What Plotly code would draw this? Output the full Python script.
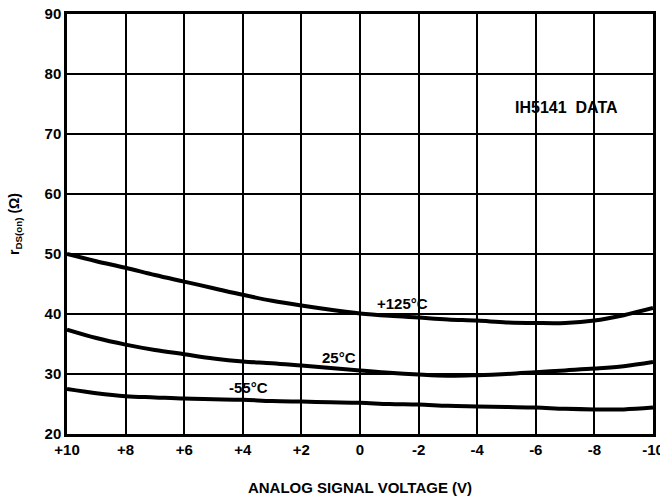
import plotly.graph_objects as go

voltage = [10, 9, 8, 7, 6, 5, 4, 3, 2, 1, 0, -1, -2, -3, -4, -5, -6, -7, -8, -9, -10]
r_125 = [50.0, 48.8, 47.7, 46.5, 45.4, 44.3, 43.2, 42.2, 41.4, 40.7, 40.1, 39.7, 39.4, 39.1, 38.9, 38.6, 38.5, 38.5, 38.9, 39.8, 41.0]
r_25 = [37.4, 36.0, 34.9, 34.0, 33.3, 32.6, 32.1, 31.8, 31.4, 31.0, 30.6, 30.2, 29.9, 29.7, 29.8, 30.0, 30.3, 30.6, 30.9, 31.3, 32.0]
r_m55 = [27.5, 26.8, 26.3, 26.1, 25.9, 25.8, 25.7, 25.5, 25.4, 25.3, 25.2, 25.0, 24.9, 24.7, 24.6, 24.5, 24.4, 24.2, 24.1, 24.1, 24.4]

x_tickvals = [10, 8, 6, 4, 2, 0, -2, -4, -6, -8, -10]
x_ticktext = ["+10", "+8", "+6", "+4", "+2", "0", "-2", "-4", "-6", "-8", "-10"]
y_tickvals = [20, 30, 40, 50, 60, 70, 80, 90]

labels = [("+125°C", -1.45, 41.8), ("25°C", 0.7, 32.8), ("-55°C", 3.8, 27.8)]

FONT = "Liberation Sans, Arial, sans-serif"

fig = go.Figure()
for ys in (r_125, r_25, r_m55):
    fig.add_trace(go.Scatter(x=voltage, y=ys, mode="lines",
                             line=dict(color="black", width=4, shape="spline"),
                             showlegend=False, hoverinfo="skip"))

for text, xv, yv in labels:
    fig.add_annotation(x=xv, y=yv, text=f"<b>{text}</b>", showarrow=False,
                       font=dict(family=FONT, size=15, color="black"))

fig.add_annotation(x=-7.05, y=74.5, text="<b>IH5141  DATA</b>", showarrow=False,
                   font=dict(family=FONT, size=16, color="black"))

fig.update_layout(
    width=660, height=499,
    margin=dict(l=67, r=7, t=14, b=65),
    paper_bgcolor="white", plot_bgcolor="white",
    font=dict(family=FONT, color="black"),
)
fig.update_xaxes(
    range=[10, -10], tickvals=x_tickvals, ticktext=x_ticktext,
    showgrid=True, gridcolor="black", gridwidth=1.5,
    showline=True, linecolor="black", linewidth=2.5, mirror=True,
    ticks="", zeroline=False, automargin=False, ticklabeloverflow="allow",
    tickfont=dict(family=FONT, size=15, color="black", weight="bold"),
    title=dict(text="<b>ANALOG SIGNAL VOLTAGE (V)</b>", standoff=26,
               font=dict(family=FONT, size=15, color="black")),
)
fig.update_yaxes(
    range=[20, 90], tickvals=y_tickvals,
    showgrid=True, gridcolor="black", gridwidth=2,
    showline=True, linecolor="black", linewidth=2.5, mirror=True,
    ticks="", zeroline=False, automargin=False, ticklabeloverflow="allow",
    tickfont=dict(family=FONT, size=15, color="black", weight="bold"),
    title=dict(text="<b>r<sub>DS(on)</sub> (Ω)</b>", standoff=22,
               font=dict(family=FONT, size=14, color="black")),
)

fig.write_html("out.html", config={"displayModeBar": False},
               post_script="document.body.style.margin='0';")
